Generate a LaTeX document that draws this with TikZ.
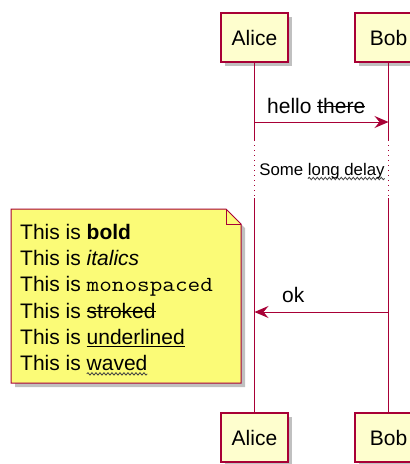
\documentclass[tikz,border=0pt]{standalone}
\usepackage{fontspec}
\setmainfont{Liberation Sans}
\usepackage{graphicx}
\usetikzlibrary{arrows.meta,shadows,decorations.pathmorphing}
\definecolor{pborder}{HTML}{A80036}
\definecolor{pfill}{HTML}{FEFECE}
\definecolor{nfill}{HTML}{FBFB77}
\newsavebox\mytxtbox
\newcommand{\mystrike}[1]{\sbox\mytxtbox{#1}\rlap{\rule[0.3em]{\wd\mytxtbox}{1pt}}\usebox\mytxtbox}
\newcommand{\myuline}[1]{\sbox\mytxtbox{#1}\rlap{\rule[-3pt]{\wd\mytxtbox}{1pt}}\usebox\mytxtbox}
\newcommand{\mywave}[1]{\sbox\mytxtbox{#1}\rlap{\tikz[overlay,x=1pt,y=1pt]\draw[line width=0.8pt,black!75,decorate,decoration={snake,segment length=4pt,amplitude=1.2pt}] (0pt,-3.5pt) -- (\wd\mytxtbox,-3.5pt);}\usebox\mytxtbox}
\newcommand{\mymono}[1]{\scalebox{1.14}[1]{{\fontsize{21.5}{26}\ttfamily #1}}}
\begin{document}
\begin{tikzpicture}[x=1pt,y=-1pt,
  myshadow/.style={drop shadow={shadow xshift=4pt,shadow yshift=-4pt,fill=black!45,opacity=.55}},
  participant/.style={draw=pborder,line width=1.2pt,fill=pfill,minimum width=67pt,minimum height=49pt,inner sep=0pt,font=\fontsize{21}{24}\selectfont,myshadow},
  lifeline/.style={draw=pborder,line width=1pt},
  delayline/.style={draw=pborder,line width=1.2pt,dash pattern=on 1.2pt off 3.8pt},
  msg/.style={draw=pborder,line width=1pt,-{Stealth[length=14pt,width=12pt,inset=5pt]}},
  msgtext/.style={font=\fontsize{21}{24}\selectfont,inner sep=0pt,anchor=base west},
  delaytext/.style={font=\fontsize{16.8}{20}\selectfont,inner sep=0pt,anchor=base},
  notebox/.style={draw=pborder,line width=1pt,fill=nfill,myshadow},
  notetext/.style={font=\fontsize{21}{26.2}\selectfont,inner sep=0pt,align=left,anchor=north west}
]
\useasboundingbox (0,0) rectangle (410,464);
% participants
\node[participant] (aT) at (254.5,37.5) {Alice};
\node[participant] (bT) at (388.5,37.5) {Bob};
\node[participant] (aB) at (254.5,437.5) {Alice};
\node[participant] (bB) at (388.5,437.5) {Bob};
% lifeline break points
\coordinate (a1) at (254.5,140);
\coordinate (a2) at (254.5,198);
\coordinate (b1) at (388.5,140);
\coordinate (b2) at (388.5,198);
\draw[lifeline] (aT.south) -- (a1);
\draw[delayline] (a1) -- (a2);
\draw[lifeline] (a2) -- (aB.north);
\draw[lifeline] (bT.south) -- (b1);
\draw[delayline] (b1) -- (b2);
\draw[lifeline] (b2) -- (bB.north);
% messages
\coordinate (m1a) at (254.5,122);
\coordinate (m1b) at (388.5,122);
\draw[msg] (m1a) -- (m1b);
\node[msgtext] (t1) at (267,113) {hello \mystrike{there}};
\node[delaytext] (dl) at (322,175) {Some \mywave{long delay}};
\coordinate (m2a) at (388.5,312);
\coordinate (m2b) at (254.5,312);
\draw[msg] (m2a) -- (m2b);
\node[msgtext] (t2) at (282,302) {ok};
% note
\filldraw[notebox] (11,209) -- (226,209) -- (241,224) -- (241,383) -- (11,383) -- cycle;
\draw[draw=pborder,line width=1pt] (226,209) -- (226,224) -- (241,224);
\node[notetext] (nt) at (20,224) {This is \textbf{bold}\\
This is \textit{italics}\\
This is \mymono{monospaced}\\
This is \mystrike{stroked}\\
This is \myuline{underlined}\\
This is \mywave{waved}};
\end{tikzpicture}
\end{document}
